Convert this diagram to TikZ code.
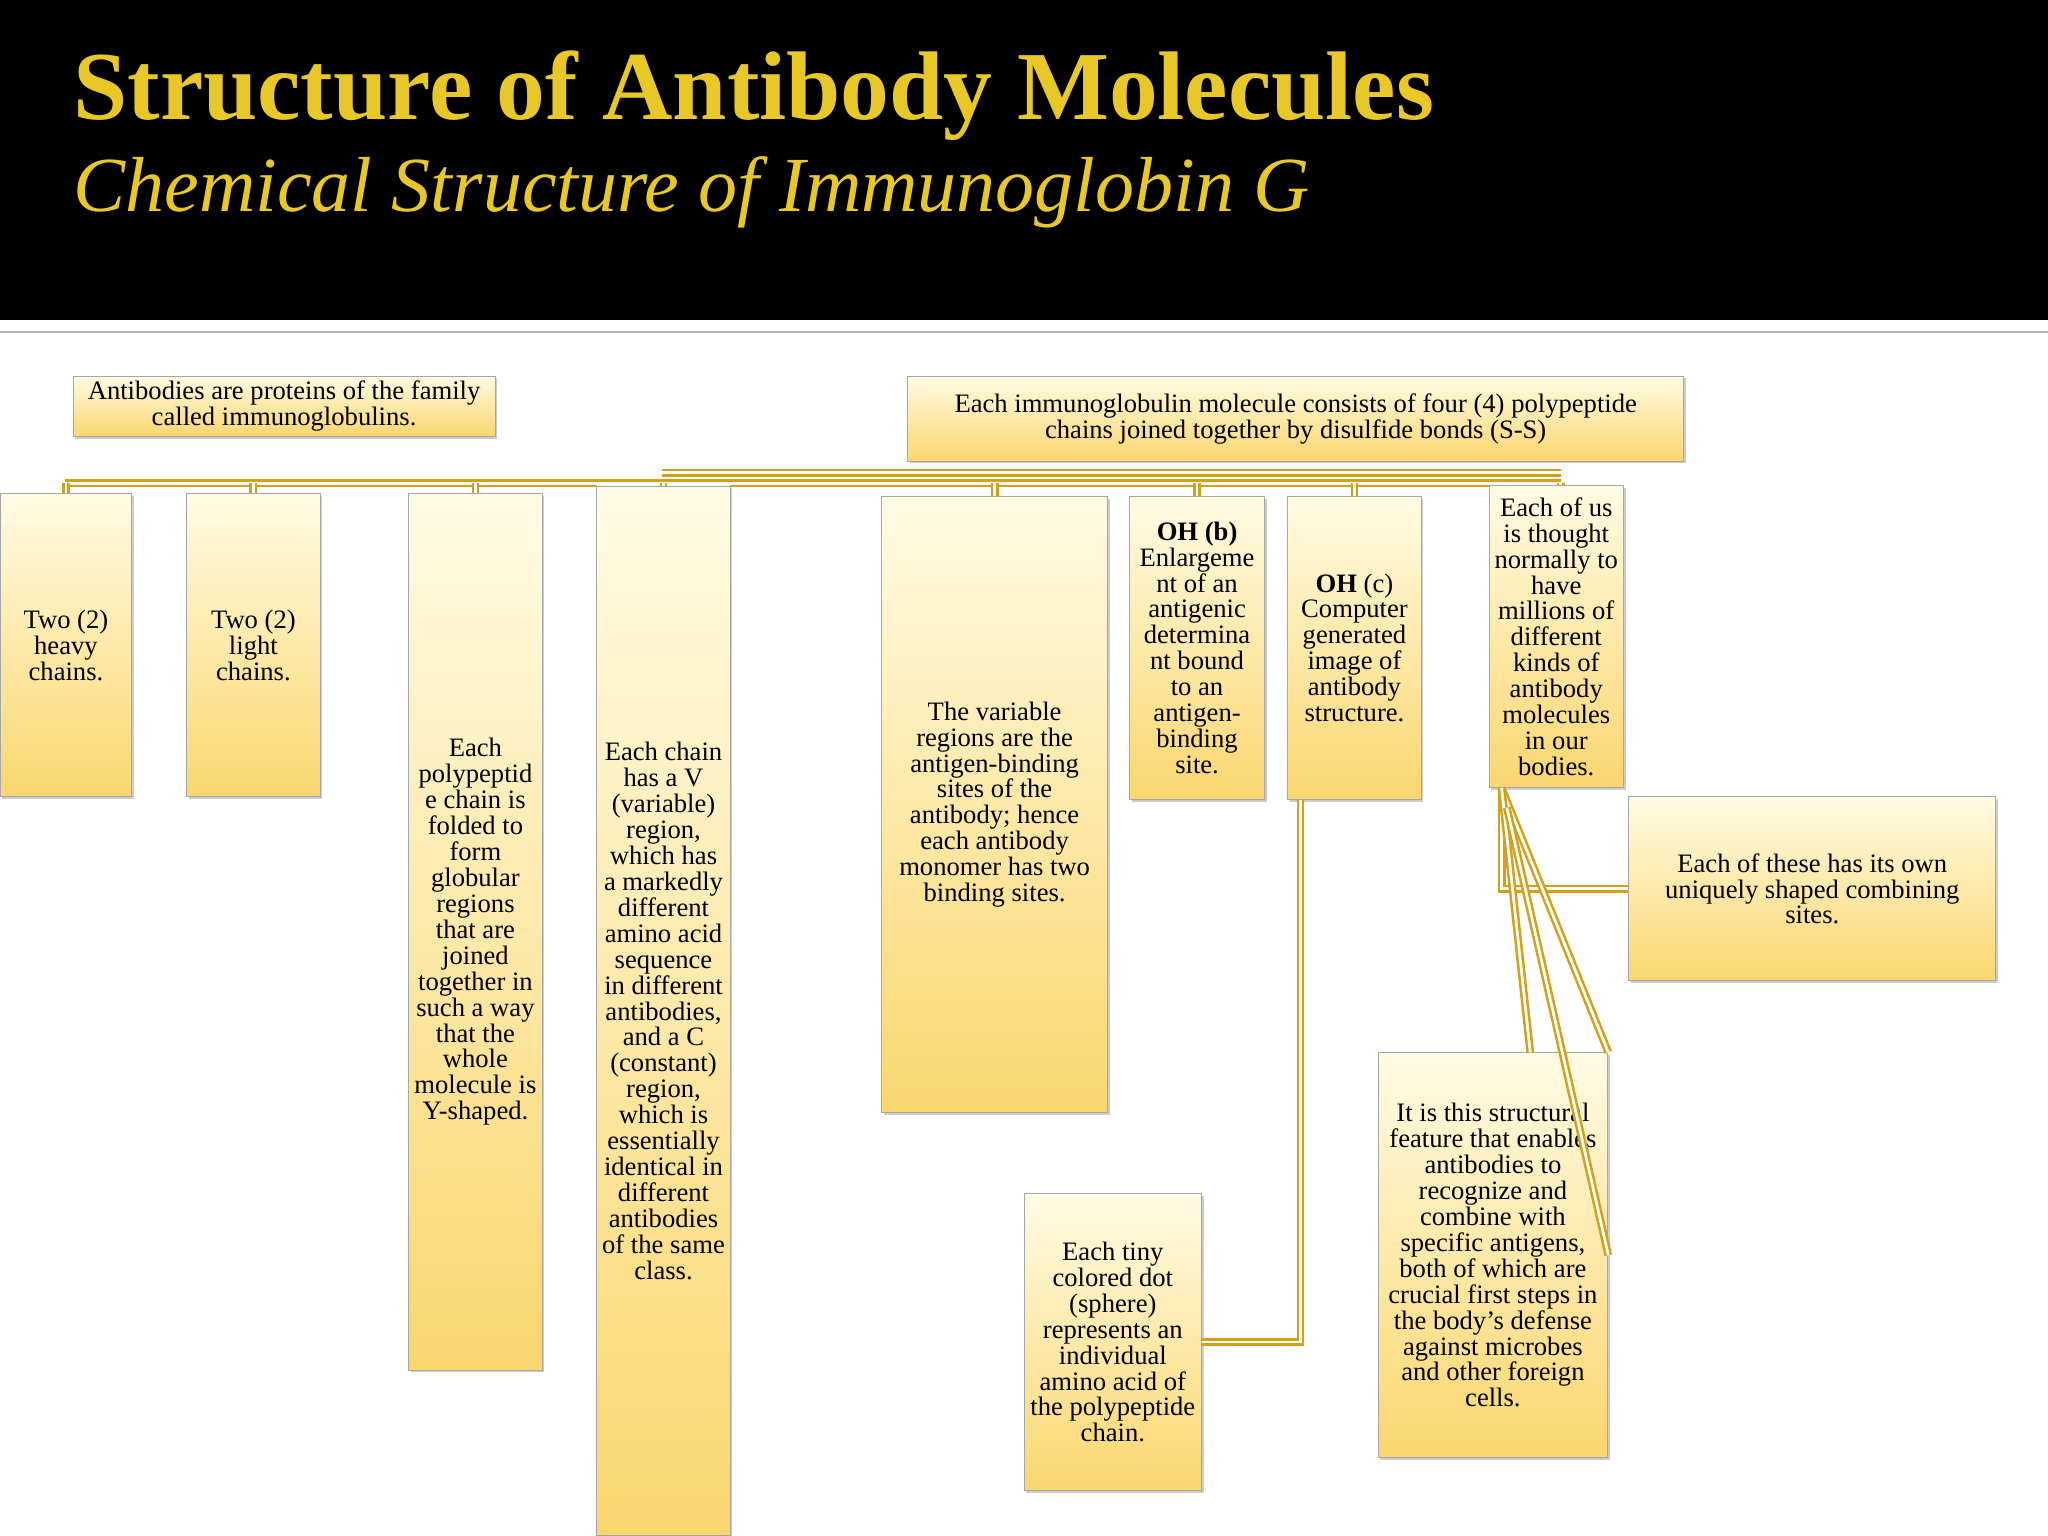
\documentclass[tikz,border=0pt]{standalone}
\usepackage{fontspec}
\setmainfont{Liberation Serif}
\usetikzlibrary{shadows}
\definecolor{gold}{RGB}{212,160,23}
\definecolor{titlegold}{RGB}{232,200,40}
\definecolor{boxtop}{RGB}{255,251,228}
\definecolor{boxbot}{RGB}{250,214,110}
\begin{document}
\begin{tikzpicture}[x=0.02cm,y=-0.02cm,
  box/.style={draw=gray!70,top color=boxtop,bottom color=boxbot,inner sep=1pt,align=center,
    font=\fontsize{11.6}{11.3}\selectfont,drop shadow={shadow xshift=1pt,shadow yshift=-1pt,opacity=0.4}},
  conn/.style={draw=gold,line width=1.1pt,double=white,double distance=1.2pt}]
\useasboundingbox (0,0) rectangle (1568,1176);
\fill[black] (0,0) rectangle (1568,245);
\draw[gray!60,line width=1pt] (0,254) -- (1568,254);
\node[anchor=west,text=titlegold,font=\fontsize{42.5}{44}\selectfont\bfseries] (t1) at (50,73) {Structure of Antibody Molecules};
\node[anchor=west,text=titlegold,font=\fontsize{34}{36}\selectfont\itshape] (t2) at (50,147) {Chemical Structure of Immunoglobin G};
\coordinate (busL) at (50,370);
\coordinate (busR) at (1195,370);
\coordinate (bus2L) at (507,362);
\coordinate (bus2R) at (1195,362);
\draw[conn] (busL) -- (busR);
\draw[conn] (bus2L) -- (bus2R);
\node[box,minimum width=6.46cm,minimum height=0.92cm] (A) at (217.5,311) {Antibodies are proteins of the family\\called immunoglobulins.};
\node[box,minimum width=11.88cm,minimum height=1.30cm] (B) at (992,320.5) {Each immunoglobulin molecule consists of four (4) polypeptide\\chains joined together by disulfide bonds (S-S)};
\node[box,minimum width=2.02cm,minimum height=4.64cm] (heavy) at (50.5,494) {Two (2)\\heavy\\chains.};
\node[box,minimum width=2.04cm,minimum height=4.64cm] (light) at (194,494) {Two (2)\\light\\chains.};
\node[box,minimum width=2.04cm,minimum height=13.42cm] (poly) at (364,713.5) {Each\\polypeptid\\e chain is\\folded to\\form\\globular\\regions\\that are\\joined\\together in\\such a way\\that the\\whole\\molecule is\\Y-shaped.};
\node[box,minimum width=2.04cm,minimum height=16.08cm] (chain) at (508,774) {Each chain\\has a V\\(variable)\\region,\\which has\\a markedly\\different\\amino acid\\sequence\\in different\\antibodies,\\and a C\\(constant)\\region,\\which is\\essentially\\identical in\\different\\antibodies\\of the same\\class.};
\node[box,minimum width=3.46cm,minimum height=9.44cm] (var) at (761.5,616) {The variable\\regions are the\\antigen-binding\\sites of the\\antibody; hence\\each antibody\\monomer has two\\binding sites.};
\node[box,minimum width=2.06cm,minimum height=4.64cm] (ohb) at (916.5,496) {\textbf{OH (b)}\\Enlargeme\\nt of an\\antigenic\\determina\\nt bound\\to an\\antigen-\\binding\\site.};
\node[box,minimum width=2.04cm,minimum height=4.64cm] (ohc) at (1037,496) {\textbf{OH} (c)\\Computer\\generated\\image of\\antibody\\structure.};
\node[box,minimum width=2.06cm,minimum height=4.62cm] (us) at (1191.5,487.5) {Each of us\\is thought\\normally to\\have\\millions of\\different\\kinds of\\antibody\\molecules\\in our\\bodies.};
\node[box,minimum width=5.62cm,minimum height=2.82cm] (these) at (1387.5,680.5) {Each of these has its own\\uniquely shaped combining\\sites.};
\node[box,minimum width=3.52cm,minimum height=6.2cm] (this) at (1143,961) {It is this structural\\feature that enables\\antibodies to\\recognize and\\combine with\\specific antigens,\\both of which are\\crucial first steps in\\the body's defense\\against microbes\\and other foreign\\cells.};
\node[box,minimum width=2.72cm,minimum height=4.54cm] (tiny) at (852,1027.5) {Each tiny\\colored dot\\(sphere)\\represents an\\individual\\amino acid of\\the polypeptide\\chain.};
\foreach \n in {heavy,light,poly,chain,var,ohb,ohc}
  \draw[conn] (\n.north) -- (\n.north |- busL);
\draw[conn] (us.north -| busR) -- (busR);
\draw[conn] (ohc.south west) ++(10,0) coordinate (oc) -- (oc |- tiny.east) -- (tiny.east);
\draw[conn] (us.south west) ++(10,0) coordinate (uc) -- (uc |- these.west) -- (these.west);
\draw[conn] (uc) -- (this.north east) ++(-34,0);
\draw[conn] (uc) -- ([xshift=-34]this.north east);
\draw[conn] (uc) ++(4,15) -- (this.east);
\end{tikzpicture}
\end{document}
